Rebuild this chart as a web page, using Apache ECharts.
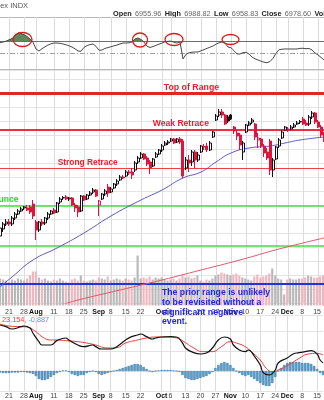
<!DOCTYPE html>
<html><head><meta charset="utf-8">
<script src="https://cdn.jsdelivr.net/npm/echarts@6/dist/echarts.min.js"></script>
<style>html,body{margin:0;padding:0;background:#fff;overflow:hidden}#c{width:324px;height:400px}</style>
</head><body><div id="c"></div>
<script>
// ---- categories (trading days) ----
const days = [
"2025-07-16","2025-07-17","2025-07-18","2025-07-21","2025-07-22","2025-07-23","2025-07-24","2025-07-25","2025-07-28","2025-07-29","2025-07-30","2025-07-31",
"2025-08-01","2025-08-04","2025-08-05","2025-08-06","2025-08-07","2025-08-08","2025-08-11","2025-08-12","2025-08-13","2025-08-14","2025-08-15","2025-08-18","2025-08-19","2025-08-20","2025-08-21","2025-08-22","2025-08-25","2025-08-26","2025-08-27","2025-08-28","2025-08-29",
"2025-09-02","2025-09-03","2025-09-04","2025-09-05","2025-09-08","2025-09-09","2025-09-10","2025-09-11","2025-09-12","2025-09-15","2025-09-16","2025-09-17","2025-09-18","2025-09-19","2025-09-22","2025-09-23","2025-09-24","2025-09-25","2025-09-26","2025-09-29","2025-09-30",
"2025-10-01","2025-10-02","2025-10-03","2025-10-06","2025-10-07","2025-10-08","2025-10-09","2025-10-10","2025-10-13","2025-10-14","2025-10-15","2025-10-16","2025-10-17","2025-10-20","2025-10-21","2025-10-22","2025-10-23","2025-10-24","2025-10-27","2025-10-28","2025-10-29","2025-10-30","2025-10-31",
"2025-11-03","2025-11-04","2025-11-05","2025-11-06","2025-11-07","2025-11-10","2025-11-11","2025-11-12","2025-11-13","2025-11-14","2025-11-17","2025-11-18","2025-11-19","2025-11-20","2025-11-21","2025-11-24","2025-11-25","2025-11-26","2025-11-28",
"2025-12-01","2025-12-02","2025-12-03","2025-12-04","2025-12-05","2025-12-08","2025-12-09","2025-12-10","2025-12-11","2025-12-12","2025-12-15","2025-12-16","2025-12-17"];

// ---- tick labels ----
const tickDates = ["2025-07-21","2025-07-28","2025-08-01","2025-08-11","2025-08-18","2025-08-25","2025-09-02","2025-09-08","2025-09-15","2025-09-22","2025-10-01","2025-10-06","2025-10-13","2025-10-20","2025-10-27","2025-11-03","2025-11-10","2025-11-17","2025-11-24","2025-12-01","2025-12-08","2025-12-15"];
const tickTexts = ["21","28","Aug","11","18","25","Sep","8","15","22","Oct","6","13","20","27","Nov","10","17","24","Dec","8","15"];

// ---- price (OHLC) ----
const open = [6285,6320,6345,6355,6345,6375,6395,6410,6425,6425,6430,6445,6355,6315,6355,6350,6375,6395,6415,6405,6455,6475,6480,6470,6475,6440,6430,6410,6485,6470,6490,6505,6515,6440,6470,6495,6530,6505,6525,6545,6565,6580,6585,6605,6605,6615,6655,6675,6695,6675,6655,6635,6680,6695,6715,6740,6750,6760,6770,6755,6770,6760,6625,6665,6655,6705,6665,6705,6730,6735,6715,6780,6865,6890,6905,6890,6880,6890,6830,6800,6790,6705,6805,6840,6855,6845,6765,6770,6735,6705,6760,6615,6670,6735,6775,6815,6820,6820,6830,6845,6855,6870,6850,6845,6880,6900,6855,6830,6795];
const close = [6325,6345,6355,6345,6375,6395,6410,6420,6430,6415,6405,6385,6315,6355,6345,6375,6395,6410,6400,6450,6470,6477,6470,6475,6440,6425,6405,6485,6465,6490,6500,6515,6485,6460,6495,6510,6500,6520,6545,6560,6580,6575,6605,6600,6590,6650,6675,6695,6670,6645,6625,6670,6695,6715,6735,6750,6755,6770,6750,6770,6755,6585,6665,6650,6705,6665,6690,6735,6732,6715,6750,6805,6885,6905,6890,6845,6860,6870,6810,6785,6740,6750,6840,6850,6865,6780,6775,6735,6700,6675,6615,6665,6730,6765,6805,6830,6815,6830,6840,6850,6857,6845,6840,6880,6900,6855,6830,6790,6765];
const low = [6235,6305,6335,6335,6335,6365,6390,6405,6415,6410,6395,6370,6265,6305,6335,6340,6365,6390,6395,6400,6445,6465,6465,6460,6435,6405,6380,6405,6460,6465,6485,6495,6480,6385,6465,6485,6480,6500,6520,6535,6560,6570,6580,6590,6570,6605,6645,6670,6665,6635,6595,6630,6675,6690,6705,6735,6740,6755,6745,6750,6745,6575,6615,6605,6635,6625,6655,6700,6715,6705,6710,6775,6860,6880,6875,6840,6850,6865,6795,6765,6715,6665,6800,6835,6845,6765,6725,6725,6680,6665,6590,6580,6665,6725,6770,6810,6805,6815,6825,6840,6845,6840,6835,6835,6870,6845,6825,6775,6755];
const high = [6335,6355,6370,6370,6385,6405,6420,6430,6435,6440,6440,6465,6365,6360,6370,6380,6405,6415,6425,6455,6480,6485,6490,6480,6480,6450,6440,6490,6490,6495,6510,6525,6520,6465,6500,6520,6545,6530,6550,6570,6590,6590,6615,6615,6625,6660,6685,6705,6700,6685,6665,6675,6705,6720,6745,6760,6765,6775,6775,6775,6780,6770,6680,6690,6715,6715,6705,6740,6745,6750,6760,6810,6895,6920,6920,6895,6890,6895,6835,6815,6800,6760,6845,6860,6875,6850,6800,6775,6745,6725,6770,6675,6735,6775,6815,6835,6830,6840,6850,6860,6865,6880,6865,6890,6910,6905,6865,6840,6805];

// ---- volume (billions) ----
const volume = [5.4,5.2,5.0, 4.8,5.2,5.0,5.4,5.2, 5.0,5.4,6.0,6.8, 6.8, 5.6,5.2,5.4,5.0,4.8, 5.2,5.0,5.4,5.0,4.8, 4.6,5.2,5.4,5.0,6.0, 5.0,4.8,5.0,5.2,5.0, 5.6,5.4,5.2,5.8, 5.0,5.2,5.4,5.2,5.0, 5.4,5.2,5.0,5.6,10.0, 5.4,5.6,5.4,5.8,5.2, 5.6,5.4,5.6,5.2,5.0, 5.2,5.4,5.0,5.4,6.0, 5.6,5.8,5.4,5.6,6.0, 5.0,4.8,5.2,5.0,5.4, 6.0,6.2,6.6,6.4,6.2, 6.0,6.2,6.4,6.0,5.6, 5.4,5.2,5.0,5.8,6.2, 5.6,5.8,6.0,6.4,7.4, 6.0,5.4,5.2,2.2, 5.2,5.4,5.2,5.2,5.4, 5.4,5.6,6.0,5.8,5.6, 5.6,5.8,6.0];

// ---- moving averages: [day index, value] ----
const ma50 = [[0,6030],[4,6080],[11,6165],[19,6225],[28,6300],[37,6385],[47,6465],[54,6515],[61,6575],[67,6605],[72,6655],[77,6700],[83,6725],[90,6735],[95,6750],[100,6765],[108,6780]];
const ma200 = [[13,5920],[20,5940],[26,5965],[40,6015],[54,6065],[67,6115],[80,6165],[93,6220],[108,6275]];

// ---- levels ----
const levelTop = 7000, levelWeak = 6815, levelStrong = 6622, levelBounce1 = 6435, levelBounce2 = 6238, levelBlue = 6046;

// ---- RSI ----
const rsi = [68.0,69.0,70.5,72.7,74.9,79.0,83.9,82.9,81.2,78.3,74.1,68.7,57.7,54.4,58.2,61.3,64.2,66.2,67.5,67.5,66.9,65.9,64.6,62.9,61.0,58.0,54.4,54.0,60.3,63.3,64.9,65.9,62.1,55.6,56.1,58.7,60.0,61.5,62.8,64.2,65.9,67.5,67.5,67.8,69.1,74.1,75.7,73.2,69.1,62.1,60.2,61.7,63.6,65.6,67.5,69.5,70.3,70.6,68.7,67.5,69.1,41.4,49.0,51.5,52.5,52.8,52.8,54.8,56.7,58.7,60.7,62.6,65.6,67.8,69.1,67.5,61.0,59.7,54.9,49.5,49.5,51.7,52.3,49.5,44.6,41.7,39.7,37.8,36.1,35.2,37.3,42.5,50.7,56.4,57.4,57.7,57.7,57.7,57.7,57.7,58.7,58.9,58.2,58.5,56.1,51.2,47.9,44.1,39.7];

// ---- MACD ----
const macdLine = [[0,69],[2,66.5],[4,63],[7,66.5],[8,67.5],[10,64.5],[11,57],[13,44],[14,39],[17,39],[19,45.5],[22,49.5],[23,46.5],[26,39],[28,36.5],[31,39],[32,36.5],[34,33],[37,33],[39,36.5],[42,46.5],[44,51.5],[46,54],[47,55.5],[49,51.5],[51,48],[52,49.5],[54,51],[57,51.5],[59,51],[61,42],[62,34.5],[64,29],[67,25.5],[69,27],[71,34.5],[73,46.5],[75,51],[77,48],[78,39],[80,31.5],[82,29],[83,31.5],[85,22.5],[87,9],[88,-2.5],[90,-6],[92,1.5],[93,12],[96,19.5],[98,25.5],[100,27.5],[102,29],[104,30.5],[106,25.5],[107,16.5],[108,12.5]];
const signalLine = [[0,70.5],[3,67.5],[7,66.5],[9,66],[12,59],[14,51.5],[17,46.5],[19,46.5],[22,45.5],[26,44],[29,42],[32,39],[36,34.5],[39,35],[42,42],[46,46.5],[49,49.5],[52,51],[56,51],[59,49.5],[62,42.5],[64,36.5],[68,29],[71,29],[74,36.5],[77,44],[79,42],[82,36.5],[84,29],[87,16.5],[89,4],[91,-1],[93,1.5],[97,10.5],[100,19],[103,25.5],[106,26.5],[108,24]];
const histogram = [-2.3,-3,-3,-3,-2.3,-2.3,-2.3,-1.5,-1.5,-2.3,-3,
 -4.5,-7.5,-12,-13.5,-13.5,-12,-9,-6,-3,-1.5,
 0.8,0.8,-1.5,-4.5,-6,-7.5,-6,-6,-3,-1.5,
 0,-1.5,-4.5,-6,-4.5,-3,-1.5,0,1.5,3,
 4.5,6,7.5,9,10.5,10.5,9,6,3,0,
 -1.5,0,0.8,1.5,1.5,1.5,1.5,0.8,0,-1.5,
 -6,-10.5,-12,-13.5,-13.5,-12,-10.5,-9,-7.5,-4.5,
 -1.5,4.5,9,12,13.5,12,9,4.5,0,-3,
 -6,-7.5,-6,-9,-12,-15,-18,-21,-22.5,-22.5,
 -18,-9,0,4.5,9,12,13.5,13.5,13.5,13.5,
 12,12,12,10.5,7.5,3,-3,-6];

// ================= build =================
const FONT = '"Liberation Sans", Arial, sans-serif';
const RED = '#e0143c', BLK = '#111111';
const idxOf = new Map(days.map((d, i) => [d, i]));
const tickIdx = new Set(tickDates.map(d => idxOf.get(d)));
const tickText = new Map(tickDates.map((d, k) => [d, tickTexts[k]]));
const months = new Set(['Aug', 'Sep', 'Oct', 'Nov', 'Dec']);

const candles = days.map((d, i) => {
  const o = open[i], c = close[i];
  const redDay = i > 0 && c < close[i - 1];
  const col = redDay ? RED : BLK;
  const hollow = c >= o;
  return {
    value: [o, c, low[i], high[i]],
    itemStyle: hollow
      ? { color: '#ffffff', color0: '#ffffff', borderColor: col, borderColor0: col }
      : { color: col, color0: col, borderColor: col, borderColor0: col }
  };
});
const volData = volume.map((v, i) => ({
  value: v,
  itemStyle: { color: (i > 0 && close[i] < close[i - 1]) ? '#f2b4be' : '#b8b8b8' }
}));
const rsiBase = rsi.map(() => 70);
const rsiOver = rsi.map(v => Math.max(0, v - 70));

function xAx(gridIndex, showLabels, margin) {
  return {
    type: 'category', gridIndex, data: days, boundaryGap: false,
    axisLine: { show: false }, axisTick: { show: false },
    axisLabel: {
      show: showLabels, interval: (i) => tickIdx.has(i), margin: margin,
      fontSize: 7, fontFamily: FONT, color: '#444',
      formatter: (v) => { const t = tickText.get(v) || ''; return months.has(t) ? '{m|' + t + '}' : t; },
      rich: { m: { fontWeight: 'bold', fontSize: 7, fontFamily: FONT, color: '#111' } }
    },
    splitLine: { show: true, interval: (i) => tickIdx.has(i), lineStyle: { color: '#dcdcdc', width: 1 } }
  };
}
function noLbl(extra) {
  return Object.assign({ axisLine: { show: false }, axisTick: { show: false }, axisLabel: { show: false } }, extra);
}

const option = {
  animation: false,
  backgroundColor: '#ffffff',
  grid: [
    { left: 0, right: 0, top: 17, height: 52 },
    { left: 0, right: 0, top: 70, height: 233 },
    { left: 0, right: 0, top: 70, height: 235.5 },
    { left: 0, right: 0, top: 315, height: 76 }
  ],
  xAxis: [xAx(0, false, 0), xAx(1, false, 0), Object.assign(xAx(2, true, 3), { splitLine: { show: false } }), xAx(3, true, 2)],
  yAxis: [
    noLbl({ type: 'value', gridIndex: 0, min: 25, max: 110, interval: 85, splitLine: { show: true, lineStyle: { color: '#b8b8b8' } } }),
    noLbl({ type: 'value', gridIndex: 1, min: 5950, max: 7115, interval: 70, splitLine: { show: true, lineStyle: { color: '#e4e4e4' } } }),
    noLbl({ type: 'value', gridIndex: 2, min: 0, max: 47.1, splitLine: { show: false } }),
    noLbl({ type: 'value', gridIndex: 3, min: -30, max: 84, interval: 30, splitLine: { show: true, lineStyle: { color: '#e2e2e2' } } })
  ],
  series: [
    { type: 'line', xAxisIndex: 0, yAxisIndex: 0, data: rsiBase, stack: 'r', symbol: 'none', lineStyle: { opacity: 0 }, silent: true },
    { type: 'line', xAxisIndex: 0, yAxisIndex: 0, data: rsiOver, stack: 'r', symbol: 'none', lineStyle: { opacity: 0 }, areaStyle: { color: '#5a8a5a', opacity: 1 }, silent: true },
    { type: 'line', xAxisIndex: 0, yAxisIndex: 0, data: rsi, symbol: 'none', lineStyle: { color: '#4a4a4a', width: 1 }, z: 5,
      markLine: { symbol: 'none', silent: true, label: { show: false }, data: [
        { yAxis: 70, lineStyle: { color: '#6e6e6e', width: 1, type: 'solid' } },
        { yAxis: 50, lineStyle: { color: '#a0a0a0', width: 1, type: [5, 2, 1, 2] } }
      ] } },
    { type: 'bar', xAxisIndex: 2, yAxisIndex: 2, data: volData, barWidth: '72%', z: 1, silent: true },
    { type: 'candlestick', xAxisIndex: 1, yAxisIndex: 1, data: candles, barWidth: 2.5, z: 4,
      itemStyle: { borderWidth: 1 },
      markLine: { symbol: 'none', silent: true, label: { show: false }, z: 3, data: [
        { yAxis: levelTop, lineStyle: { color: '#e3242b', width: 3, type: 'solid' } },
        { yAxis: levelWeak, lineStyle: { color: '#e8323a', width: 2, type: 'solid' } },
        { yAxis: levelStrong, lineStyle: { color: '#ee4048', width: 1, type: 'solid' } },
        { yAxis: levelBounce1, lineStyle: { color: '#3fe03f', width: 1.5, type: 'solid' } },
        { yAxis: levelBounce2, lineStyle: { color: '#3fe03f', width: 1.5, type: 'solid' } },
        { yAxis: levelBlue, lineStyle: { color: '#2233dd', width: 2, type: 'solid' } }
      ] } },
    { type: 'line', xAxisIndex: 1, yAxisIndex: 1, data: ma50, smooth: true, symbol: 'none', lineStyle: { color: '#5a5ac8', width: 1 }, z: 3 },
    { type: 'line', xAxisIndex: 1, yAxisIndex: 1, data: ma200, smooth: true, symbol: 'none', lineStyle: { color: '#e05a6a', width: 1 }, z: 3 },
    { type: 'bar', xAxisIndex: 3, yAxisIndex: 3, data: histogram, barWidth: '80%', itemStyle: { color: '#5aa3d3', borderColor: '#2f6f9c', borderWidth: 0.5 } },
    { type: 'line', xAxisIndex: 3, yAxisIndex: 3, data: signalLine, smooth: true, symbol: 'none', lineStyle: { color: '#f03a3a', width: 1 } },
    { type: 'line', xAxisIndex: 3, yAxisIndex: 3, data: macdLine, smooth: true, symbol: 'none', lineStyle: { color: '#111', width: 1.2 } }
  ],
  graphic: [
    { type: 'text', x: -4, y: 5.5, style: { text: 'dex INDX', fontSize: 7.5, fontFamily: FONT, fill: '#555', verticalAlign: 'middle' } },
    { type: 'text', x: 113, y: 13.5, style: { text: '{b|Open} {n|6955.96} {b|High} {n|6988.82} {b|Low} {n|6958.83} {b|Close} {n|6978.60} {b|Volume} {n|3.1B}', verticalAlign: 'middle',
      rich: { b: { fontSize: 7.3, fontWeight: 'bold', fontFamily: FONT, fill: '#222' }, n: { fontSize: 7.3, fontFamily: FONT, fill: '#666' } } } },
    { type: 'ellipse', shape: { cx: 22.5, cy: 39.5, rx: 9.5, ry: 7 }, style: { fill: 'none', stroke: '#e01818', lineWidth: 1.3 }, z: 10 },
    { type: 'ellipse', shape: { cx: 140, cy: 40, rx: 7.5, ry: 7 }, style: { fill: 'none', stroke: '#e01818', lineWidth: 1.3 }, z: 10 },
    { type: 'ellipse', shape: { cx: 174, cy: 39.5, rx: 9, ry: 6 }, style: { fill: 'none', stroke: '#e01818', lineWidth: 1.3 }, z: 10 },
    { type: 'ellipse', shape: { cx: 230.5, cy: 39.5, rx: 8.5, ry: 5 }, style: { fill: 'none', stroke: '#e01818', lineWidth: 1.3 }, z: 10 },
    { type: 'text', x: 163.7, y: 87.3, style: { text: 'Top of Range', fontSize: 8.8, fontWeight: 'bold', fontFamily: FONT, fill: '#ee1c2c', verticalAlign: 'middle' }, z: 10 },
    { type: 'text', x: 152.7, y: 123.3, style: { text: 'Weak Retrace', fontSize: 8.6, fontWeight: 'bold', fontFamily: FONT, fill: '#ee1c2c', verticalAlign: 'middle' }, z: 10 },
    { type: 'text', x: 57.7, y: 162.7, style: { text: 'Strong Retrace', fontSize: 8.4, fontWeight: 'bold', fontFamily: FONT, fill: '#ee1c2c', verticalAlign: 'middle' }, z: 10 },
    { type: 'text', x: -13, y: 200, style: { text: 'Bounce', fontSize: 8.6, fontWeight: 'bold', fontFamily: FONT, fill: '#22dd22', verticalAlign: 'middle' }, z: 10 },
    { type: 'text', x: 162, y: 288, style: { text: 'The prior range is unlikely\nto be revisited without a\nsignificant negative\nevent.', fontSize: 8.7, fontWeight: 'bold', fontFamily: FONT, fill: '#2323e6', lineHeight: 9.7, verticalAlign: 'top' }, z: 10 },
    { type: 'text', x: -2, y: 320, style: { text: '{r|, 23.154, }{b|-0.887}', verticalAlign: 'middle',
      rich: { r: { fontSize: 7.3, fontFamily: FONT, fill: '#f03a3a' }, b: { fontSize: 7.3, fontFamily: FONT, fill: '#4aa0d8' } } }, z: 10 }
  ]
};
const chart = echarts.init(document.getElementById('c'), null, { renderer: 'canvas', width: 324, height: 400 });
chart.setOption(option);
</script>
</body></html>
